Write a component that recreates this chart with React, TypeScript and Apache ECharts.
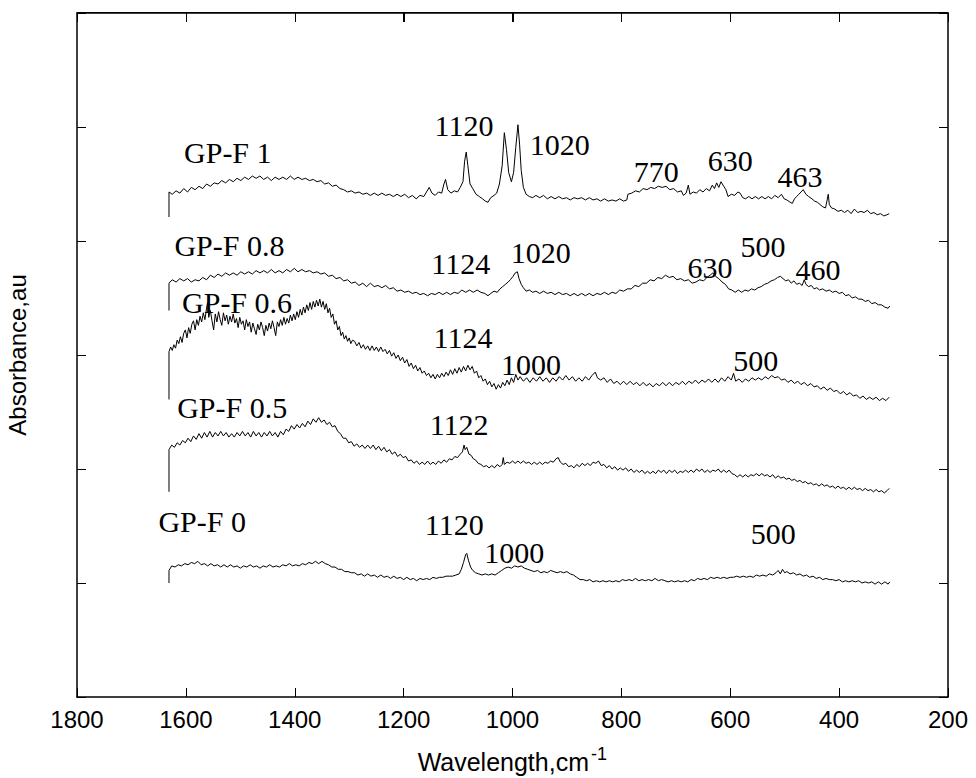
import React, { useEffect, useRef, useState } from "react";
import * as echarts from "echarts";

// Axis ranges (tick labels 1800 ... 200, y axis unlabeled)
const X_MIN = 200;
const X_MAX = 1800;
const X_STEP = 200;
const Y_MIN = 0;
const Y_MAX = 6;
const Y_STEP = 1;

// Spectra: [wavenumber (cm-1), absorbance (a.u., offset)]
const gpf1: [number, number][] = [
  [1631,4.21],[1631,4.43],[1625,4.41],[1618,4.44],[1611,4.42],[1604,4.46],[1597,4.43],[1590,4.47],[1583,4.45],[1576,4.48],[1569,4.46],[1562,4.50],[1555,4.48],[1548,4.51],[1541,4.50],[1534,4.53],[1527,4.51],[1520,4.54],[1513,4.52],[1506,4.55],[1499,4.53],[1492,4.56],[1485,4.54],[1478,4.57],[1471,4.55],[1464,4.57],[1457,4.54],[1450,4.56],[1443,4.53],[1436,4.56],[1429,4.54],[1422,4.56],[1415,4.54],[1408,4.57],[1401,4.54],[1394,4.56],[1387,4.54],[1380,4.55],[1373,4.53],[1366,4.54],[1359,4.52],[1352,4.53],[1345,4.50],[1338,4.51],[1331,4.48],[1324,4.49],[1317,4.46],[1310,4.45],[1303,4.43],[1296,4.44],[1289,4.42],[1282,4.43],[1275,4.41],[1268,4.42],[1261,4.40],[1254,4.42],[1247,4.40],[1240,4.42],[1233,4.40],[1226,4.41],[1219,4.39],[1212,4.41],[1205,4.39],[1198,4.41],[1191,4.38],[1184,4.40],[1177,4.37],[1170,4.40],[1163,4.39],[1158,4.43],[1153,4.47],[1148,4.42],[1142,4.40],[1136,4.43],[1130,4.42],[1126,4.50],[1123,4.54],[1119,4.45],[1113,4.42],[1107,4.44],[1101,4.43],[1096,4.47],[1091,4.52],[1088,4.70],[1085,4.78],[1082,4.66],[1078,4.50],[1073,4.46],[1067,4.41],[1061,4.39],[1055,4.37],[1050,4.35],[1045,4.34],[1040,4.38],[1034,4.40],[1029,4.42],[1024,4.50],[1019,4.66],[1015,4.95],[1011,4.80],[1007,4.60],[1002,4.52],[998,4.60],[994,4.82],[990,5.02],[987,4.85],[984,4.62],[980,4.47],[975,4.41],[969,4.39],[963,4.38],[957,4.40],[950,4.38],[943,4.40],[936,4.37],[929,4.39],[922,4.37],[915,4.39],[908,4.37],[901,4.38],[894,4.36],[887,4.38],[880,4.37],[873,4.38],[866,4.36],[859,4.38],[852,4.36],[845,4.37],[838,4.35],[831,4.37],[824,4.35],[817,4.36],[810,4.35],[803,4.37],[796,4.35],[790,4.36],[788,4.41],[781,4.42],[774,4.44],[767,4.43],[760,4.46],[753,4.45],[746,4.47],[739,4.46],[732,4.48],[725,4.47],[718,4.48],[711,4.45],[704,4.46],[697,4.43],[690,4.44],[686,4.40],[681,4.42],[677,4.49],[674,4.41],[668,4.43],[662,4.42],[656,4.45],[650,4.43],[644,4.46],[638,4.44],[633,4.49],[629,4.46],[625,4.51],[621,4.47],[617,4.52],[612,4.48],[608,4.45],[604,4.39],[598,4.41],[592,4.40],[586,4.43],[582,4.42],[577,4.38],[572,4.37],[566,4.39],[560,4.37],[554,4.39],[548,4.37],[542,4.39],[536,4.37],[530,4.39],[524,4.37],[518,4.40],[512,4.38],[506,4.41],[501,4.37],[496,4.36],[490,4.34],[486,4.33],[482,4.37],[478,4.39],[474,4.41],[470,4.43],[466,4.45],[461,4.41],[456,4.39],[450,4.37],[445,4.35],[440,4.34],[435,4.32],[430,4.30],[425,4.29],[422,4.36],[420,4.41],[418,4.32],[414,4.29],[408,4.28],[402,4.26],[396,4.27],[390,4.25],[384,4.27],[378,4.24],[372,4.28],[366,4.25],[360,4.26],[354,4.25],[348,4.27],[342,4.24],[336,4.25],[330,4.23],[324,4.24],[318,4.22],[312,4.23],[308,4.24]
];

const gpf08: [number, number][] = [
  [1631,3.39],[1631,3.63],[1625,3.66],[1618,3.64],[1611,3.67],[1604,3.65],[1597,3.67],[1590,3.64],[1583,3.66],[1576,3.65],[1569,3.68],[1562,3.66],[1555,3.70],[1548,3.68],[1541,3.71],[1534,3.69],[1527,3.72],[1520,3.70],[1513,3.72],[1506,3.70],[1499,3.73],[1492,3.71],[1485,3.73],[1478,3.71],[1471,3.74],[1464,3.72],[1457,3.74],[1450,3.72],[1443,3.75],[1436,3.72],[1429,3.74],[1422,3.72],[1415,3.75],[1408,3.73],[1401,3.76],[1394,3.73],[1387,3.75],[1380,3.73],[1373,3.74],[1366,3.72],[1359,3.73],[1352,3.71],[1345,3.72],[1338,3.69],[1331,3.70],[1324,3.67],[1317,3.68],[1310,3.65],[1303,3.66],[1296,3.63],[1289,3.64],[1282,3.61],[1275,3.63],[1268,3.60],[1261,3.63],[1254,3.60],[1247,3.61],[1240,3.59],[1233,3.61],[1226,3.58],[1219,3.59],[1212,3.56],[1205,3.57],[1198,3.55],[1191,3.56],[1184,3.54],[1177,3.55],[1170,3.53],[1163,3.54],[1156,3.52],[1149,3.54],[1142,3.53],[1135,3.55],[1128,3.53],[1121,3.55],[1114,3.53],[1107,3.55],[1100,3.54],[1093,3.57],[1086,3.55],[1079,3.57],[1072,3.55],[1065,3.57],[1058,3.55],[1051,3.54],[1045,3.52],[1040,3.54],[1034,3.56],[1028,3.55],[1023,3.58],[1018,3.60],[1013,3.62],[1008,3.64],[1004,3.66],[999,3.69],[995,3.72],[991,3.73],[988,3.67],[984,3.62],[980,3.59],[975,3.56],[969,3.57],[963,3.55],[957,3.56],[950,3.54],[943,3.56],[936,3.54],[929,3.55],[922,3.53],[915,3.55],[908,3.53],[901,3.54],[894,3.52],[887,3.54],[880,3.52],[873,3.54],[866,3.52],[859,3.54],[852,3.52],[845,3.54],[838,3.53],[831,3.55],[824,3.53],[817,3.55],[810,3.54],[803,3.57],[796,3.56],[789,3.58],[782,3.58],[775,3.61],[768,3.60],[761,3.63],[754,3.63],[747,3.66],[740,3.65],[733,3.68],[726,3.67],[719,3.70],[712,3.68],[705,3.69],[698,3.66],[691,3.67],[684,3.65],[677,3.66],[670,3.63],[663,3.64],[656,3.66],[649,3.65],[643,3.68],[637,3.70],[632,3.72],[627,3.69],[621,3.67],[615,3.64],[609,3.62],[603,3.58],[597,3.57],[591,3.55],[585,3.57],[579,3.55],[573,3.57],[567,3.56],[561,3.58],[555,3.57],[549,3.59],[543,3.60],[537,3.62],[531,3.63],[525,3.65],[519,3.66],[513,3.68],[508,3.69],[503,3.67],[498,3.65],[493,3.66],[488,3.63],[483,3.65],[478,3.62],[473,3.63],[468,3.61],[464,3.66],[461,3.62],[456,3.60],[451,3.61],[446,3.58],[441,3.59],[436,3.57],[430,3.58],[424,3.56],[418,3.57],[412,3.55],[406,3.56],[400,3.54],[394,3.55],[388,3.52],[382,3.53],[376,3.50],[370,3.51],[364,3.49],[358,3.49],[352,3.47],[346,3.48],[340,3.45],[334,3.46],[328,3.44],[322,3.44],[316,3.42],[310,3.41],[307,3.43]
];

const gpf06: [number, number][] = [
  [1631,2.61],[1631,3.03],[1628,3.07],[1625,3.04],[1622,3.09],[1619,3.06],[1616,3.13],[1613,3.10],[1610,3.16],[1607,3.11],[1604,3.19],[1601,3.22],[1598,3.15],[1595,3.24],[1592,3.19],[1589,3.27],[1586,3.30],[1583,3.22],[1580,3.31],[1577,3.26],[1574,3.34],[1571,3.29],[1568,3.37],[1565,3.31],[1562,3.41],[1560,3.46],[1558,3.33],[1555,3.39],[1552,3.30],[1549,3.22],[1546,3.36],[1543,3.29],[1540,3.38],[1537,3.31],[1534,3.26],[1531,3.37],[1528,3.30],[1525,3.35],[1522,3.27],[1519,3.34],[1516,3.29],[1513,3.36],[1510,3.28],[1507,3.32],[1504,3.24],[1501,3.33],[1498,3.27],[1495,3.30],[1492,3.22],[1489,3.31],[1486,3.25],[1483,3.29],[1480,3.20],[1477,3.28],[1474,3.23],[1471,3.18],[1468,3.27],[1465,3.22],[1462,3.29],[1459,3.24],[1456,3.17],[1453,3.26],[1450,3.21],[1447,3.28],[1444,3.23],[1441,3.30],[1438,3.24],[1435,3.17],[1432,3.29],[1429,3.25],[1426,3.31],[1423,3.26],[1420,3.33],[1417,3.27],[1414,3.32],[1411,3.28],[1408,3.35],[1405,3.30],[1402,3.36],[1399,3.31],[1396,3.38],[1393,3.33],[1390,3.40],[1387,3.35],[1384,3.42],[1381,3.37],[1378,3.44],[1375,3.39],[1372,3.46],[1369,3.40],[1366,3.47],[1363,3.42],[1360,3.48],[1357,3.43],[1354,3.49],[1351,3.42],[1348,3.47],[1345,3.40],[1342,3.45],[1339,3.37],[1336,3.41],[1333,3.33],[1330,3.36],[1327,3.27],[1324,3.30],[1321,3.22],[1318,3.25],[1315,3.17],[1312,3.20],[1309,3.14],[1306,3.17],[1303,3.12],[1300,3.15],[1297,3.10],[1294,3.13],[1290,3.12],[1286,3.08],[1282,3.11],[1278,3.06],[1274,3.09],[1270,3.05],[1266,3.08],[1262,3.04],[1258,3.08],[1254,3.04],[1250,3.07],[1246,3.03],[1242,3.07],[1238,3.03],[1234,3.05],[1230,3.01],[1226,3.04],[1222,2.99],[1218,3.02],[1214,2.97],[1210,3.00],[1206,2.95],[1202,2.98],[1198,2.93],[1194,2.96],[1190,2.90],[1186,2.93],[1182,2.88],[1178,2.91],[1174,2.86],[1170,2.89],[1166,2.84],[1162,2.86],[1158,2.82],[1154,2.84],[1150,2.80],[1146,2.83],[1142,2.79],[1138,2.83],[1134,2.80],[1130,2.84],[1126,2.81],[1122,2.85],[1118,2.82],[1114,2.87],[1110,2.83],[1106,2.88],[1102,2.84],[1098,2.89],[1094,2.85],[1090,2.90],[1086,2.86],[1082,2.91],[1078,2.87],[1074,2.90],[1070,2.84],[1066,2.86],[1062,2.80],[1058,2.82],[1054,2.77],[1050,2.79],[1046,2.74],[1042,2.77],[1038,2.72],[1034,2.75],[1030,2.70],[1026,2.74],[1022,2.71],[1018,2.76],[1014,2.73],[1010,2.78],[1006,2.74],[1002,2.80],[998,2.76],[994,2.83],[990,2.78],[986,2.81],[980,2.77],[974,2.80],[968,2.76],[962,2.80],[956,2.77],[950,2.81],[944,2.77],[938,2.80],[932,2.76],[926,2.80],[920,2.77],[914,2.81],[908,2.78],[902,2.82],[896,2.78],[890,2.81],[884,2.77],[878,2.80],[872,2.77],[866,2.81],[860,2.78],[854,2.82],[848,2.85],[844,2.80],[838,2.78],[832,2.80],[826,2.76],[820,2.79],[814,2.75],[808,2.77],[802,2.74],[796,2.77],[790,2.74],[784,2.77],[778,2.74],[772,2.76],[766,2.73],[760,2.76],[754,2.73],[748,2.75],[742,2.72],[736,2.75],[730,2.73],[724,2.76],[718,2.73],[712,2.76],[706,2.73],[700,2.76],[694,2.74],[688,2.77],[682,2.74],[676,2.77],[670,2.75],[664,2.78],[658,2.75],[652,2.78],[646,2.76],[640,2.79],[634,2.76],[628,2.79],[622,2.76],[616,2.80],[610,2.77],[604,2.81],[598,2.78],[594,2.84],[590,2.77],[584,2.79],[578,2.76],[572,2.79],[566,2.77],[560,2.80],[554,2.78],[548,2.80],[542,2.78],[536,2.81],[530,2.79],[524,2.82],[518,2.80],[512,2.81],[506,2.78],[500,2.79],[494,2.76],[488,2.78],[482,2.75],[476,2.77],[470,2.74],[464,2.76],[458,2.73],[452,2.75],[446,2.72],[440,2.73],[434,2.70],[428,2.72],[422,2.69],[416,2.71],[410,2.68],[404,2.69],[398,2.66],[392,2.68],[386,2.65],[380,2.67],[374,2.64],[368,2.65],[362,2.62],[356,2.64],[350,2.61],[344,2.63],[338,2.61],[332,2.63],[326,2.60],[320,2.62],[314,2.60],[308,2.63]
];

const gpf05: [number, number][] = [
  [1631,1.80],[1631,2.17],[1626,2.21],[1621,2.19],[1616,2.23],[1611,2.21],[1606,2.25],[1601,2.23],[1596,2.27],[1591,2.24],[1586,2.29],[1581,2.26],[1576,2.31],[1571,2.27],[1566,2.32],[1561,2.28],[1556,2.33],[1551,2.28],[1546,2.32],[1541,2.29],[1536,2.33],[1531,2.29],[1526,2.32],[1521,2.28],[1516,2.31],[1511,2.28],[1506,2.32],[1501,2.29],[1496,2.33],[1491,2.29],[1486,2.32],[1481,2.28],[1476,2.33],[1471,2.29],[1466,2.32],[1461,2.28],[1456,2.32],[1451,2.29],[1446,2.33],[1441,2.29],[1436,2.32],[1431,2.28],[1426,2.33],[1421,2.30],[1416,2.35],[1411,2.33],[1406,2.38],[1401,2.35],[1396,2.39],[1391,2.36],[1386,2.40],[1381,2.37],[1376,2.42],[1371,2.39],[1366,2.44],[1361,2.41],[1356,2.45],[1351,2.41],[1346,2.43],[1341,2.39],[1336,2.41],[1331,2.37],[1326,2.38],[1321,2.33],[1316,2.31],[1311,2.27],[1306,2.27],[1301,2.23],[1296,2.24],[1291,2.20],[1286,2.22],[1281,2.19],[1276,2.21],[1271,2.18],[1266,2.21],[1261,2.18],[1256,2.21],[1251,2.17],[1246,2.20],[1241,2.16],[1236,2.19],[1231,2.15],[1226,2.17],[1221,2.13],[1216,2.15],[1211,2.11],[1206,2.13],[1201,2.10],[1196,2.11],[1191,2.07],[1186,2.08],[1181,2.05],[1176,2.07],[1171,2.04],[1166,2.06],[1161,2.04],[1156,2.07],[1151,2.04],[1146,2.06],[1141,2.04],[1136,2.07],[1131,2.05],[1126,2.08],[1121,2.06],[1116,2.09],[1111,2.08],[1106,2.11],[1101,2.10],[1096,2.13],[1092,2.15],[1089,2.21],[1087,2.17],[1084,2.19],[1080,2.13],[1076,2.12],[1072,2.09],[1068,2.08],[1063,2.05],[1058,2.04],[1053,2.02],[1048,2.03],[1043,2.01],[1038,2.03],[1033,2.01],[1028,2.04],[1023,2.02],[1019,2.04],[1017,2.10],[1015,2.04],[1010,2.06],[1005,2.05],[1000,2.07],[995,2.05],[990,2.07],[985,2.05],[980,2.07],[975,2.05],[970,2.06],[965,2.04],[960,2.06],[955,2.04],[950,2.06],[945,2.04],[940,2.06],[935,2.05],[930,2.07],[925,2.06],[920,2.09],[916,2.10],[912,2.06],[907,2.04],[902,2.05],[897,2.02],[892,2.03],[887,2.01],[882,2.04],[877,2.02],[872,2.05],[867,2.03],[862,2.05],[857,2.03],[852,2.06],[847,2.05],[842,2.07],[837,2.03],[832,2.04],[827,2.01],[822,2.03],[817,2.00],[812,2.02],[807,1.99],[802,2.01],[797,1.99],[792,2.01],[787,1.98],[782,2.00],[777,1.97],[772,1.99],[767,1.97],[762,1.99],[757,1.96],[752,1.98],[747,1.96],[742,1.98],[737,1.96],[732,1.99],[727,1.97],[722,1.99],[717,1.96],[712,1.99],[707,1.97],[702,1.99],[697,1.96],[692,1.98],[687,1.97],[682,1.99],[677,1.97],[672,1.99],[667,1.97],[662,2.00],[657,1.98],[652,2.00],[647,1.97],[642,1.99],[637,1.97],[632,1.99],[627,1.98],[622,2.00],[617,1.97],[612,1.99],[607,1.97],[602,1.99],[597,1.96],[592,1.95],[587,1.93],[582,1.95],[577,1.93],[572,1.95],[567,1.93],[562,1.95],[557,1.94],[552,1.96],[547,1.94],[542,1.96],[537,1.94],[532,1.95],[527,1.93],[522,1.95],[517,1.92],[512,1.94],[507,1.92],[502,1.93],[497,1.91],[492,1.92],[487,1.90],[482,1.91],[477,1.89],[472,1.90],[467,1.88],[462,1.89],[457,1.87],[452,1.88],[447,1.86],[442,1.87],[437,1.85],[432,1.87],[427,1.85],[422,1.86],[417,1.84],[412,1.85],[407,1.83],[402,1.85],[397,1.83],[392,1.84],[387,1.82],[382,1.84],[377,1.82],[372,1.84],[367,1.82],[362,1.83],[357,1.81],[352,1.83],[347,1.81],[342,1.82],[337,1.80],[332,1.82],[327,1.80],[322,1.81],[317,1.79],[312,1.81],[308,1.83]
];

const gpf0: [number, number][] = [
  [1631,1.00],[1631,1.11],[1626,1.15],[1620,1.14],[1614,1.16],[1608,1.15],[1602,1.17],[1596,1.16],[1590,1.18],[1584,1.17],[1578,1.19],[1572,1.16],[1566,1.17],[1560,1.15],[1554,1.17],[1548,1.15],[1542,1.16],[1536,1.14],[1530,1.16],[1524,1.14],[1518,1.16],[1512,1.14],[1506,1.15],[1500,1.13],[1494,1.15],[1488,1.14],[1482,1.16],[1476,1.14],[1470,1.15],[1464,1.13],[1458,1.15],[1452,1.14],[1446,1.16],[1440,1.14],[1434,1.15],[1428,1.14],[1422,1.16],[1416,1.15],[1410,1.17],[1404,1.15],[1398,1.16],[1392,1.15],[1386,1.17],[1380,1.16],[1374,1.18],[1368,1.17],[1362,1.19],[1356,1.17],[1350,1.19],[1344,1.17],[1338,1.16],[1332,1.14],[1326,1.14],[1320,1.12],[1314,1.12],[1308,1.10],[1302,1.10],[1296,1.09],[1290,1.09],[1284,1.07],[1278,1.08],[1272,1.06],[1266,1.08],[1260,1.06],[1254,1.07],[1248,1.05],[1242,1.07],[1236,1.05],[1230,1.06],[1224,1.04],[1218,1.06],[1212,1.04],[1206,1.05],[1200,1.03],[1194,1.05],[1188,1.03],[1182,1.04],[1176,1.02],[1170,1.04],[1164,1.03],[1158,1.04],[1152,1.03],[1146,1.05],[1140,1.04],[1134,1.05],[1128,1.05],[1122,1.06],[1116,1.06],[1110,1.06],[1104,1.07],[1098,1.08],[1094,1.12],[1090,1.18],[1086,1.25],[1084,1.26],[1081,1.20],[1077,1.14],[1073,1.11],[1068,1.09],[1062,1.08],[1056,1.07],[1050,1.08],[1044,1.07],[1038,1.08],[1032,1.07],[1026,1.09],[1020,1.11],[1014,1.13],[1008,1.14],[1002,1.13],[996,1.15],[990,1.14],[984,1.15],[978,1.13],[972,1.12],[966,1.11],[960,1.10],[954,1.11],[948,1.09],[942,1.10],[936,1.09],[930,1.11],[924,1.10],[918,1.09],[912,1.10],[906,1.09],[900,1.10],[894,1.08],[888,1.07],[882,1.05],[876,1.03],[870,1.03],[864,1.02],[858,1.03],[852,1.01],[846,1.02],[840,1.01],[834,1.02],[828,1.01],[822,1.02],[816,1.01],[810,1.02],[804,1.01],[798,1.03],[792,1.02],[786,1.03],[780,1.02],[774,1.04],[768,1.02],[762,1.03],[756,1.02],[750,1.03],[744,1.02],[738,1.04],[732,1.02],[726,1.03],[720,1.02],[714,1.01],[708,1.02],[702,1.01],[696,1.02],[690,1.01],[684,1.02],[678,1.01],[672,1.03],[666,1.02],[660,1.04],[654,1.03],[648,1.04],[642,1.03],[636,1.05],[630,1.04],[624,1.05],[618,1.04],[612,1.05],[606,1.04],[600,1.05],[594,1.05],[588,1.06],[582,1.05],[576,1.06],[570,1.05],[564,1.06],[558,1.05],[552,1.07],[546,1.06],[540,1.07],[534,1.06],[528,1.08],[522,1.07],[516,1.09],[512,1.11],[508,1.08],[504,1.12],[500,1.09],[496,1.10],[490,1.08],[484,1.09],[478,1.07],[472,1.08],[466,1.06],[460,1.07],[454,1.05],[448,1.06],[442,1.04],[436,1.05],[430,1.03],[424,1.04],[418,1.03],[412,1.03],[406,1.02],[400,1.03],[394,1.01],[388,1.02],[382,1.01],[376,1.02],[370,1.01],[364,1.02],[358,1.00],[352,1.01],[346,1.00],[340,1.01],[334,0.99],[328,1.01],[322,0.99],[316,1.01],[310,0.99],[307,1.01]
];

const SERIES_NAMES = ["GP-F 1", "GP-F 0.8", "GP-F 0.6", "GP-F 0.5", "GP-F 0"];
const SERIES_DATA = [gpf1, gpf08, gpf06, gpf05, gpf0];

// In-plot annotations: text, wavenumber, absorbance
const ANNOT_TEXT = [
  "GP-F 1", "1120", "1020", "770", "630", "463",
  "GP-F 0.8", "1124", "1020", "630", "500", "460",
  "GP-F 0.6", "1124", "1000", "500",
  "GP-F 0.5", "1122",
  "GP-F 0", "1120", "1000", "500",
];
const ANNOT_W = [
  1523, 1089, 913, 736, 600, 472,
  1520, 1095, 948, 637, 540, 439,
  1506, 1091, 966, 553,
  1515, 1098,
  1570, 1107, 997, 521,
];
const ANNOT_V = [
  4.78, 5.01, 4.85, 4.61, 4.71, 4.57,
  3.96, 3.80, 3.90, 3.77, 3.95, 3.75,
  3.46, 3.15, 2.92, 2.95,
  2.54, 2.39,
  1.54, 1.51, 1.27, 1.43,
];

const X_TITLE = "Wavelength,cm";
const X_TITLE_SUP = "-1";
const Y_TITLE = "Absorbance,au";

const GRID_LEFT = 77;
const GRID_RIGHT = 28;
const GRID_TOP = 13;
const GRID_BOTTOM = 81;
const CHART_W = 976;
const CHART_H = 778;

export default function App() {
  const ref = useRef<HTMLDivElement>(null);
  const [topTicks, setTopTicks] = useState<number[]>([]);

  useEffect(() => {
    if (!ref.current) return;
    const chart = echarts.init(ref.current, null, { renderer: "svg" });

    const mkLine = () => ({ show: true, onZero: false, lineStyle: { color: "#000", width: 1.5 } });
    const mkTick = () => ({ show: true, inside: true, length: 9, lineStyle: { color: "#000", width: 1 } });

    chart.setOption({
      animation: false,
      backgroundColor: "#fff",
      grid: { left: GRID_LEFT, right: GRID_RIGHT, top: GRID_TOP, bottom: GRID_BOTTOM },
      xAxis: [
        {
          type: "value",
          min: X_MIN,
          max: X_MAX,
          interval: X_STEP,
          inverse: true,
          position: "bottom",
          axisLine: mkLine(),
          axisTick: mkTick(),
          splitLine: { show: false },
          axisLabel: {
            show: true,
            color: "#000",
            fontSize: 24,
            fontFamily: "Liberation Sans",
            margin: 10,
            showMinLabel: true,
            showMaxLabel: true,
            hideOverlap: false,
            formatter: (v: number) => String(v),
          },
        },
        {
          type: "value",
          min: X_MIN,
          max: X_MAX,
          interval: X_STEP,
          inverse: true,
          position: "top",
          axisLine: mkLine(),
          axisTick: mkTick(),
          splitLine: { show: false },
          axisLabel: { show: true, inside: true, formatter: () => "" },
        },
      ],
      yAxis: [
        {
          type: "value", min: Y_MIN, max: Y_MAX, interval: Y_STEP, position: "left",
          axisLine: mkLine(), axisTick: mkTick(), axisLabel: { show: false }, splitLine: { show: false },
        },
        {
          type: "value", min: Y_MIN, max: Y_MAX, interval: Y_STEP, position: "right",
          axisLine: mkLine(), axisTick: mkTick(), axisLabel: { show: false }, splitLine: { show: false },
        },
      ],
      series: SERIES_DATA.map((d, i) => ({
        name: SERIES_NAMES[i],
        type: "line",
        data: d,
        showSymbol: false,
        symbol: "none",
        lineStyle: { color: "#000", width: 1 },
      })),
    });

    // Annotations placed through the chart's own scales
    const annotGraphics = ANNOT_TEXT.map((t, i) => {
      const p = chart.convertToPixel({ xAxisIndex: 0, yAxisIndex: 0 }, [ANNOT_W[i], ANNOT_V[i]]) as number[];
      return {
        type: "text",
        x: p[0],
        y: p[1],
        style: {
          text: t,
          fill: "#000",
          fontFamily: "Liberation Serif",
          fontSize: 30,
          textAlign: "center",
          textVerticalAlign: "middle",
        },
      };
    });

    chart.setOption({
      graphic: [
        ...annotGraphics,
        {
          type: "text",
          x: 589,
          y: 762,
          style: {
            text: X_TITLE,
            fill: "#000",
            fontFamily: "Liberation Sans",
            fontSize: 25,
            textAlign: "right",
            textVerticalAlign: "middle",
          },
        },
        {
          type: "text",
          x: 591,
          y: 754,
          style: {
            text: X_TITLE_SUP,
            fill: "#000",
            fontFamily: "Liberation Sans",
            fontSize: 18,
            textAlign: "left",
            textVerticalAlign: "middle",
          },
        },
        {
          type: "text",
          x: 17,
          y: 355,
          rotation: Math.PI / 2,
          style: {
            text: Y_TITLE,
            fill: "#000",
            fontFamily: "Liberation Sans",
            fontSize: 24,
            textAlign: "center",
            textVerticalAlign: "middle",
          },
        },
      ],
    });

    // tick positions of the top frame, taken from the chart's x scale
    const xs: number[] = [];
    for (let v = X_MIN; v <= X_MAX; v += X_STEP) {
      xs.push(chart.convertToPixel({ xAxisIndex: 0 }, v) as number);
    }
    setTopTicks(xs);

    return () => chart.dispose();
  }, []);

  return (
    <div style={{ position: "absolute", left: 0, top: 0, width: CHART_W, height: CHART_H, background: "#fff" }}>
      <div ref={ref} style={{ position: "absolute", left: 0, top: 0, width: CHART_W, height: CHART_H }} />
      <div
        style={{
          position: "absolute",
          left: GRID_LEFT,
          top: GRID_TOP - 1,
          width: CHART_W - GRID_LEFT - GRID_RIGHT,
          height: 0,
          borderTop: "1.5px solid #000",
          pointerEvents: "none",
        }}
      />
      {topTicks.map((x, i) => (
        <div
          key={i}
          style={{
            position: "absolute",
            left: Math.round(x) - 0.5,
            top: GRID_TOP,
            width: 1,
            height: 9,
            background: "#000",
            pointerEvents: "none",
          }}
        />
      ))}
    </div>
  );
}
